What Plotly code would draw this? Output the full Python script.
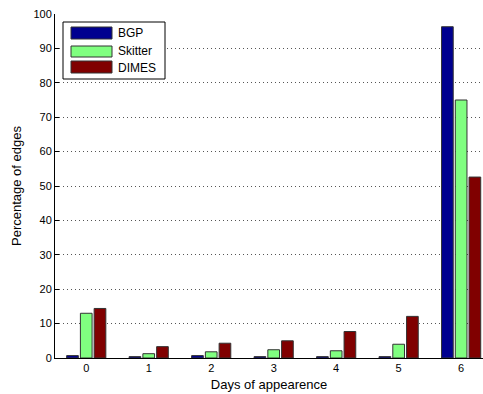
import plotly.graph_objects as go

days = [0, 1, 2, 3, 4, 5, 6]
bgp = [0.7, 0.4, 0.7, 0.4, 0.4, 0.4, 96.3]
skitter = [13.0, 1.25, 1.8, 2.4, 2.1, 4.0, 75.0]
dimes = [14.4, 3.3, 4.3, 5.0, 7.7, 12.1, 52.6]
y_ticks = [0, 10, 20, 30, 40, 50, 60, 70, 80, 90, 100]

series = [("BGP", bgp, "#00008F"), ("Skitter", skitter, "#80FF80"), ("DIMES", dimes, "#800000")]

W, H = 483, 394
ML, MR, MT, MB = 55, 0, 14, 36
PW, PH = W - ML - MR, H - MT - MB


def px(x):
    return (x - ML) / PW


def py(y):
    return (H - MB - y) / PH


fig = go.Figure()
for name, vals, col in series:
    fig.add_trace(go.Bar(x=days, y=vals, name=name, showlegend=False,
                         marker=dict(color=col, line=dict(color="#333333", width=1))))

shapes = []
annotations = []
# legend box
shapes.append(dict(type="rect", xref="paper", yref="paper", x0=px(63), x1=px(165), y0=py(79), y1=py(22),
                   line=dict(color="#000000", width=1), fillcolor="white", layer="above"))
rows = [(27, 39, 33), (46, 57, 51.5), (61, 73, 67.5)]
for (name, vals, col), (t, b, c) in zip(series, rows):
    shapes.append(dict(type="rect", xref="paper", yref="paper", x0=px(71), x1=px(112), y0=py(b), y1=py(t),
                       line=dict(color="#333333", width=1), fillcolor=col, layer="above"))
    annotations.append(dict(text=name, xref="paper", yref="paper", x=px(116), y=py(c), xanchor="left",
                            yanchor="middle", showarrow=False,
                            font=dict(family="Liberation Sans, Arial, sans-serif", size=12, color="#000000")))

font = dict(family="Liberation Sans, Arial, sans-serif", size=11, color="#000000")
fig.update_layout(
    width=W, height=H,
    margin=dict(l=ML, r=MR, t=MT, b=MB),
    paper_bgcolor="white", plot_bgcolor="white",
    barmode="group", bargap=0.34, bargroupgap=0.15,
    font=font,
    showlegend=False,
    shapes=shapes,
    annotations=annotations,
    xaxis=dict(range=[-0.5, 6.35], tickvals=days, ticktext=[str(d) for d in days],
               showgrid=False, zeroline=False, showline=True, linecolor="#000000", linewidth=1,
               ticks="", title=dict(text="Days of appearence", standoff=6)),
    yaxis=dict(range=[0, 100], tickvals=y_ticks, showgrid=True, gridcolor="#555555",
               griddash="1px,3px", gridwidth=1, zeroline=False, showline=True, linecolor="#000000",
               linewidth=1, ticks="inside", ticklen=4, tickcolor="#000000",
               title=dict(text="Percentage of edges", standoff=8)),
)
fig.write_html("out.html")
